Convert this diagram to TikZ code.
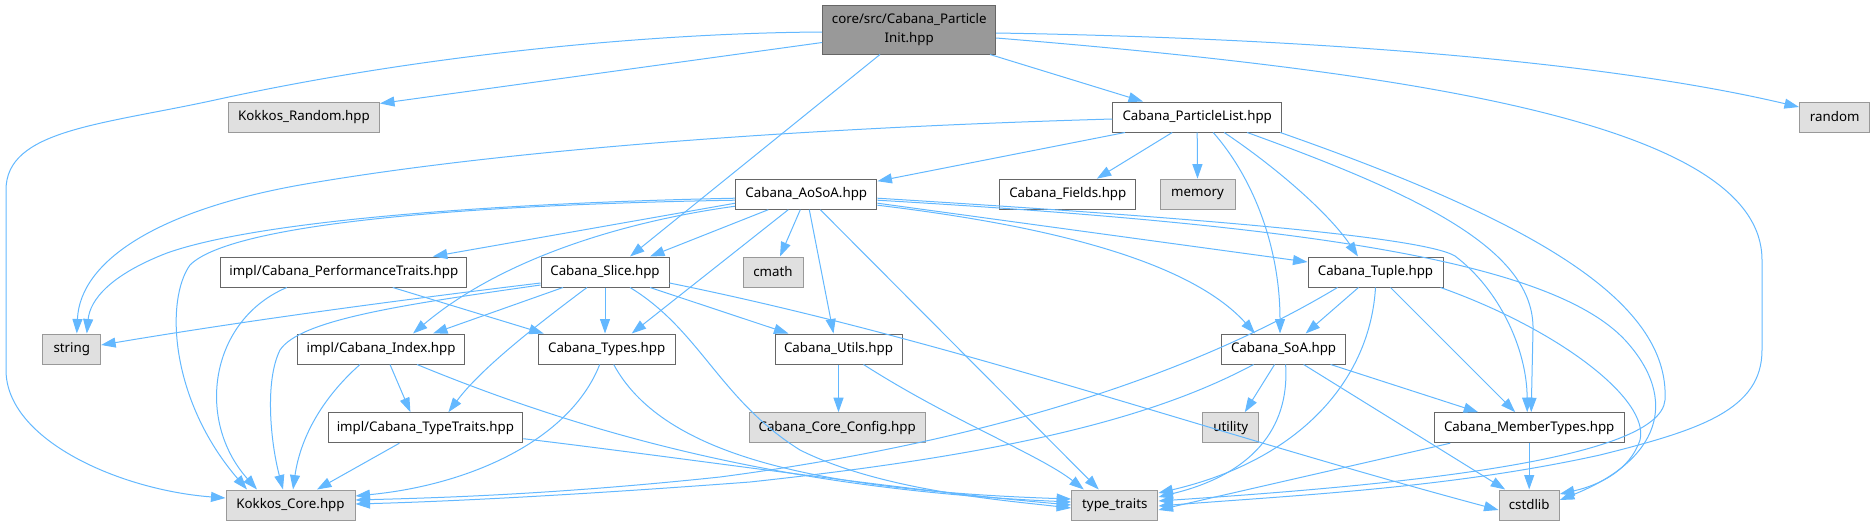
\documentclass[tikz,border=0pt]{standalone}
\usepackage{fontspec}
\setmainfont{Noto Sans}
\usetikzlibrary{arrows.meta}
\definecolor{edgec}{HTML}{63B8FF}
\definecolor{bdark}{HTML}{666666}
\definecolor{blight}{HTML}{999999}
\definecolor{fgray}{HTML}{E0E0E0}
\definecolor{froot}{HTML}{999999}
\newcommand\dxfont{\fontsize{13.3}{18.7}\selectfont}
\tikzset{
  nd/.style={draw=bdark, fill=white, line width=1pt, inner sep=0pt, minimum height=30pt, font=\dxfont, text=black},
  ext/.style={nd, draw=blight, fill=fgray},
  rootbox/.style={nd, fill=froot, minimum height=49pt, align=center},
  e/.style={draw=edgec, line width=1pt, -{Triangle[length=14.5pt,width=10pt]}},
}
\begin{document}
\begin{tikzpicture}[x=1pt,y=-1pt]
\useasboundingbox (0,0) rectangle (1875,525);
% nodes
\node[rootbox, minimum width=173pt] (root) at (909.2,29.5) {core/src/Cabana\_Particle\\Init.hpp};
\node[ext, minimum width=151pt] (krand) at (304,117) {Kokkos\_Random.hpp};
\node[nd, minimum width=168.5pt] (plist) at (1197.2,117) {Cabana\_ParticleList.hpp};
\node[ext, minimum width=70.5pt] (random) at (1834.7,117) {random};
\node[nd, minimum width=141.3pt] (aosoa) at (806.3,194.2) {Cabana\_AoSoA.hpp};
\node[nd, minimum width=136.3pt] (fields) at (1067.8,194.2) {Cabana\_Fields.hpp};
\node[ext, minimum width=75pt] (memory) at (1197.5,194.2) {memory};
\node[nd, minimum width=246.3pt] (perf) at (343.8,272) {impl/Cabana\_PerformanceTraits.hpp};
\node[nd, minimum width=128pt] (slice) at (605,272) {Cabana\_Slice.hpp};
\node[ext, minimum width=60pt] (cmath) at (773,272) {cmath};
\node[nd, minimum width=135pt] (tuple) at (1375.5,272) {Cabana\_Tuple.hpp};
\node[ext, minimum width=57.7pt] (string) at (71.8,349) {string};
\node[nd, minimum width=166.6pt] (index) at (381,349) {impl/Cabana\_Index.hpp};
\node[nd, minimum width=136.6pt] (types) at (606.7,349) {Cabana\_Types.hpp};
\node[nd, minimum width=127pt] (utils) at (838.5,349) {Cabana\_Utils.hpp};
\node[nd, minimum width=124pt] (soa) at (1283.6,349) {Cabana\_SoA.hpp};
\node[nd, minimum width=194.8pt] (ttraits) at (425.4,427.7) {impl/Cabana\_TypeTraits.hpp};
\node[ext, minimum width=175.6pt] (config) at (837.2,427.7) {Cabana\_Core\_Config.hpp};
\node[ext, minimum width=55.7pt] (utility) at (1230.8,427.7) {utility};
\node[nd, minimum width=190.3pt] (member) at (1529.2,427.7) {Cabana\_MemberTypes.hpp};
\node[ext, minimum width=129pt] (kcore) at (290.5,505) {Kokkos\_Core.hpp};
\node[ext, minimum width=86.3pt] (tt) at (1114.8,505) {type\_traits};
\node[ext, minimum width=60.3pt] (cstdlib) at (1529.2,505) {cstdlib};

% root edges
\draw[e] ([yshift=-2.5pt]root.west) .. controls (650,33) and (420,55) .. (215,100)
  .. controls (100,125) and (6,130) .. (6,190) -- (6,370)
  .. controls (6,440) and (120,490) .. ([yshift=7pt]kcore.west);
\draw[e] ([yshift=-13pt]root.west) -- ([yshift=-2pt]krand.north east);
\draw[e] ([xshift=-29.2pt]root.south) -- ([xshift=25pt]slice.north);
\draw[e] ([xshift=80.8pt]root.south) -- ([xshift=-54.2pt]plist.north);
\draw[e] ([yshift=-3.5pt]root.east) .. controls (1300,38) and (1600,60) .. ([yshift=10pt]random.west);
\draw[e] ([yshift=-8.5pt]root.east) .. controls (1450,75) and (1762,130) .. (1762,260) -- (1762,350)
  .. controls (1762,410) and (1700,430) .. (1600,455) .. controls (1450,488) and (1300,495) .. ([yshift=-1pt]tt.east);

% ParticleList edges
\draw[e] ([yshift=-2pt]plist.west) .. controls (800,128) and (500,150) .. (300,185)
  .. controls (160,210) and (80,260) .. ([xshift=5pt]string.north);
\draw[e] ([xshift=-72.2pt]plist.south) -- ([yshift=13pt]aosoa.east);
\draw[e] ([xshift=-25pt]plist.south) -- ([xshift=29pt]fields.north);
\draw[e] (plist.south) -- (memory.north);
\draw[e] ([xshift=16pt]plist.south) .. controls (1255,180) and (1280,250) .. ([xshift=-3.6pt]soa.north);
\draw[e] ([xshift=27pt]plist.south) .. controls (1280,170) and (1330,215) .. ([xshift=-17.5pt]tuple.north);
\draw[e] ([xshift=50pt]plist.south) .. controls (1420,195) and (1535,250) .. (1533,330) -- ([xshift=2pt]member.north);
\draw[e] ([xshift=83pt]plist.south) .. controls (1530,220) and (1670,300) .. (1665,400)
  .. controls (1660,460) and (1400,485) .. ([yshift=4pt]tt.east);

% AoSoA edges
\draw[e] ([yshift=-4pt]aosoa.west) .. controls (500,203) and (260,220) .. (167,253)
  .. controls (110,275) and (90,300) .. ([xshift=15pt]string.north);
\draw[e] ([yshift=-6pt]aosoa.west) .. controls (450,205) and (230,225) .. (190,265)
  .. controls (165,300) and (170,400) .. ([xshift=-43.5pt]kcore.north);
\draw[e] ([yshift=-9pt]aosoa.west) -- ([xshift=89pt]perf.north);
\draw[e] ([yshift=-12pt]aosoa.west) .. controls (620,222) and (500,260) .. ([xshift=32pt]index.north);
\draw[e] ([xshift=-38pt]aosoa.south) -- ([xshift=45pt]slice.north);
\draw[e] ([xshift=-18pt]aosoa.south) -- ([xshift=25pt]types.north);
\draw[e] ([xshift=-6pt]aosoa.south) -- ([xshift=7pt]cmath.north);
\draw[e] ([xshift=3pt]aosoa.south) -- ([xshift=-5pt]utils.north);
\draw[e] ([xshift=14pt]aosoa.south) -- ([xshift=-16pt]tt.north);
\draw[e] ([yshift=-9pt]aosoa.east) -- ([yshift=10pt]tuple.west);
\draw[e] ([yshift=-11pt]aosoa.east) .. controls (1000,220) and (1180,250) .. ([xshift=-28.6pt]soa.north);
\draw[e] ([yshift=-4pt]aosoa.east) .. controls (1150,215) and (1420,235) .. (1455,256)
  .. controls (1500,290) and (1527,350) .. ([xshift=-2pt]member.north);
\draw[e] ([yshift=-6pt]aosoa.east) .. controls (1300,225) and (1550,260) .. (1625,340)
  .. controls (1680,400) and (1660,460) .. ([yshift=5pt]cstdlib.east);

% Tuple edges
\draw[e] ([xshift=-17pt]tuple.south) -- ([xshift=22pt]soa.north);
\draw[e] ([xshift=-38pt]tuple.south) .. controls (1200,370) and (1000,440) .. (720,477)
  .. controls (550,495) and (430,498) .. ([yshift=5pt]kcore.east);
\draw[e] (tuple.south) .. controls (1370,380) and (1300,460) .. ([yshift=12pt]tt.east);
\draw[e] ([xshift=15pt]tuple.south) -- ([xshift=-14pt]member.north);
\draw[e] ([xshift=-3pt]tuple.south east) .. controls (1560,330) and (1650,400) .. (1640,440)
  .. controls (1630,470) and (1600,485) .. ([yshift=11pt]cstdlib.east);

% SoA edges
\draw[e] ([xshift=-9pt]soa.south) -- ([xshift=14pt]utility.north);
\draw[e] ([xshift=2pt]soa.south) .. controls (1290,430) and (1250,475) .. ([yshift=8pt]tt.east);
\draw[e] ([xshift=47pt]soa.south) -- ([xshift=-51pt]member.north);
\draw[e] ([xshift=20pt]soa.south) -- ([xshift=-24pt]cstdlib.north);
\draw[e] ([xshift=-30pt]soa.south) .. controls (1150,420) and (1000,455) .. (750,482)
  .. controls (550,497) and (430,502) .. ([yshift=1pt]kcore.east);

% MemberTypes edges
\draw[e] (member.south) -- (cstdlib.north);
\draw[e] ([xshift=-79pt]member.south) -- ([yshift=-5pt]tt.east);

% Utils edges
\draw[e] (utils.south) -- (utils.south |- config.north);
\draw[e] ([xshift=25pt]utils.south) .. controls (950,420) and (1040,455) .. ([xshift=-31pt]tt.north);

% Types edges
\draw[e] ([xshift=-7pt]types.south) .. controls (570,440) and (470,485) .. ([yshift=9pt]kcore.east);
\draw[e] ([xshift=7pt]types.south) .. controls (660,450) and (800,490) .. ([yshift=6pt]tt.west);

% Index edges
\draw[e] ([xshift=9pt]index.south) -- ([xshift=-15pt]ttraits.north);
\draw[e] ([xshift=-21pt]index.south) .. controls (320,400) and (300,440) .. ([xshift=2.5pt]kcore.north);
\draw[e] ([xshift=36pt]index.south) .. controls (600,440) and (800,490) .. ([yshift=3pt]tt.west);

% TypeTraits edges
\draw[e] ([xshift=-26pt]ttraits.south) -- ([xshift=26.5pt]kcore.north);
\draw[e] ([yshift=-11pt]ttraits.east) .. controls (700,460) and (900,490) .. (tt.west);

% PerformanceTraits edges
\draw[e] ([xshift=-57pt]perf.south) .. controls (210,320) and (195,420) .. ([xshift=-33.5pt]kcore.north);
\draw[e] ([xshift=49pt]perf.south) -- ([xshift=-63pt]types.north);

% Slice edges
\draw[e] ([yshift=-11pt]slice.west) .. controls (400,300) and (250,320) .. ([yshift=4pt]string.east);
\draw[e] ([yshift=-13pt]slice.west) .. controls (400,305) and (300,320) .. (280,350)
  .. controls (265,380) and (270,440) .. ([xshift=-7.5pt]kcore.north);
\draw[e] ([xshift=-42pt]slice.south) -- ([xshift=52pt]index.north);
\draw[e] ([xshift=-18pt]slice.south) .. controls (530,330) and (480,370) .. ([xshift=23pt]ttraits.north);
\draw[e] (slice.south) -- ([xshift=-1.7pt]types.north);
\draw[e] ([xshift=25pt]slice.south) .. controls (700,330) and (720,400) .. (800,450)
  .. controls (880,490) and (1000,500) .. ([yshift=-3pt]tt.west);
\draw[e] ([xshift=45pt]slice.south) -- ([xshift=-50pt]utils.north);
\draw[e] ([yshift=-11pt]slice.east) .. controls (950,340) and (1200,430) .. ([yshift=-5pt]cstdlib.west);
\end{tikzpicture}
\end{document}
